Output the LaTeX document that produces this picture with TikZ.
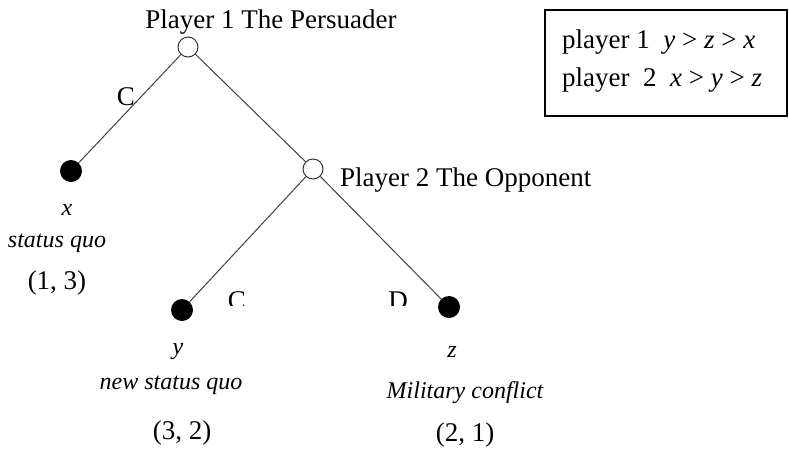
\documentclass[tikz,border=0pt]{standalone}
\usepackage{fontspec}
\setmainfont{Liberation Serif}
\begin{document}
\begin{tikzpicture}[x=1pt,y=-1pt,
  open/.style={circle,draw=black!80,line width=1pt,fill=white,minimum size=20pt,inner sep=0pt},
  leaf/.style={circle,fill=black,minimum size=22pt,inner sep=0pt},
  edge/.style={draw=black!75,line width=1pt},
  lab/.style={font=\fontsize{27}{31}\selectfont,inner sep=0pt},
  ilab/.style={font=\fontsize{24}{28}\selectfont\itshape,inner sep=0pt}]
\useasboundingbox (0,0) rectangle (789,448);
% nodes
\node[open] (r) at (188,47) {};
\node[leaf] (x) at (71,171) {};
\node[open] (p2) at (313,169) {};
\node[leaf] (y) at (182,310) {};
\node[leaf] (z) at (449,307) {};
% edges
\draw[edge] (r) -- (x);
\draw[edge] (r) -- (p2);
\draw[edge] (p2) -- (y);
\draw[edge] (p2) -- (z);
% labels
\node[lab] (t1) at (271,22) {Player 1 The Persuader};
\node[lab,anchor=west] (t2) at (340,180) {Player 2 The Opponent};
\node[lab] (c1) at (126,97) {C};
\begin{scope}
\clip (200,280) rectangle (430,305);
\node[lab] (c2) at (237,301) {C};
\node[lab] (d2) at (398,301) {D};
\end{scope}
\node[ilab] (xl) at (67,210) {x};
\node[ilab] (xs) at (57,243) {status quo};
\node[lab] (xp) at (57,283) {(1, 3)};
\node[ilab] (yl) at (178,352) {y};
\node[ilab] (ys) at (171,385) {new status quo};
\node[lab] (yp) at (182,433) {(3, 2)};
\node[ilab] (zl) at (452,352) {z};
\node[ilab] (zs) at (465,393) {Military conflict};
\node[lab] (zp) at (465,435) {(2, 1)};
% box
\draw[line width=1.1pt] (545,10) rectangle (787,116);
\node[lab,anchor=west] (b1) at (562,42) {player 1 \ \textit{y} > \textit{z} > \textit{x}};
\node[lab,anchor=west] (b2) at (562,80) {player \ 2 \ \textit{x} > \textit{y} > \textit{z}};
\end{tikzpicture}
\end{document}
